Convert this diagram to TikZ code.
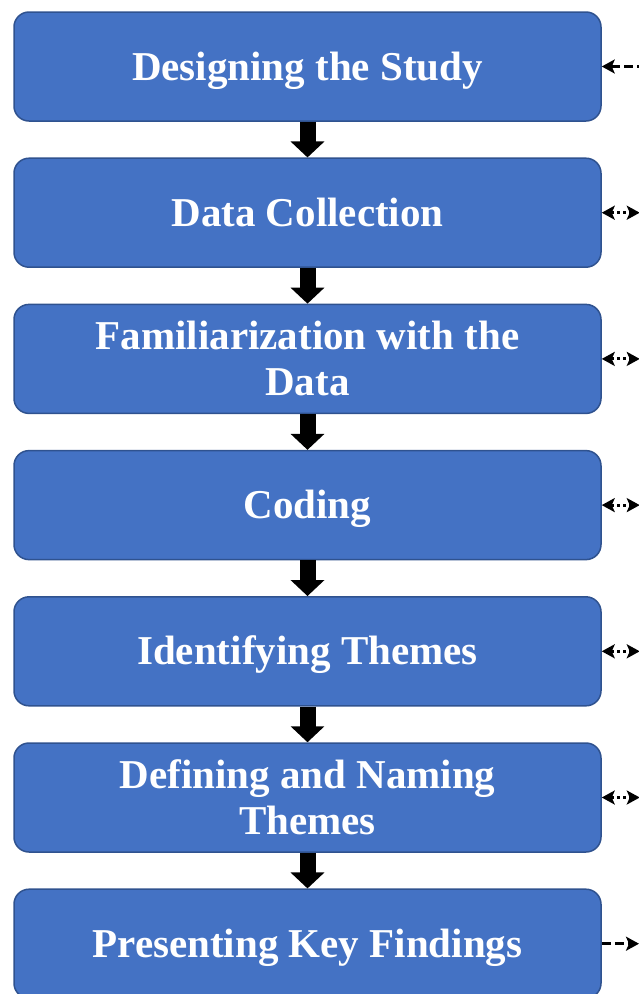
\documentclass[tikz,border=0pt]{standalone}
\usepackage{fontspec}
\setmainfont{Liberation Serif}
\usetikzlibrary{arrows.meta}
\definecolor{boxfill}{HTML}{4472C4}
\definecolor{boxline}{HTML}{2F528F}
\tikzset{
  stagebox/.style={draw=boxline, line width=1.5pt, fill=boxfill, rounded corners=15pt,
    minimum width=587pt, minimum height=109pt, align=center, text=white,
    font=\fontsize{41}{46}\selectfont\bfseries, inner sep=0pt,
    text height=27pt, text depth=0pt},
  twoline/.style={text height=73pt},
  flowarrow/.style={draw=black, line width=16pt, -{Triangle[width=33pt,length=16pt]}},
  sidetip/.tip={Stealth[width=14pt,length=13pt,inset=3pt]},
  sideline/.style={draw=black, line width=3pt},
}
\begin{document}
\begin{tikzpicture}[x=1pt,y=-1pt]
\useasboundingbox (0,0) rectangle (639,994);
\clip (0,0) rectangle (639,994);
% process stages
\node[stagebox] (s1) at (307.5,66.5) {Designing the Study};
\node[stagebox] (s2) at (307.5,212.7) {Data Collection};
\node[stagebox, twoline] (s3) at (307.5,358.9) {Familiarization with the\\Data};
\node[stagebox] (s4) at (307.5,505.1) {Coding};
\node[stagebox] (s5) at (307.5,651.3) {Identifying Themes};
\node[stagebox, twoline] (s6) at (307.5,797.5) {Defining and Naming\\Themes};
\node[stagebox] (s7) at (307.5,943.7) {Presenting Key Findings};
% downward flow
\foreach \a/\b in {s1/s2,s2/s3,s3/s4,s4/s5,s5/s6,s6/s7}
  \draw[flowarrow] (\a.south) -- (\b.north);
% side links
\coordinate (r1) at (640,66.5);
\draw[sideline, dash pattern=on 9pt off 4pt, sidetip-] (s1.east) -- (r1);
\foreach \s in {s2,s3,s4,s5,s6} {
  \coordinate (r\s) at ([xshift=38pt]\s.east);
  \draw[sideline, dash pattern=on 3pt off 3pt, sidetip-sidetip] (\s.east) -- (r\s);
}
\coordinate (r7) at (639,943.7);
\draw[sideline, dash pattern=on 9pt off 4pt, -sidetip] (s7.east) -- (r7);
\end{tikzpicture}
\end{document}
